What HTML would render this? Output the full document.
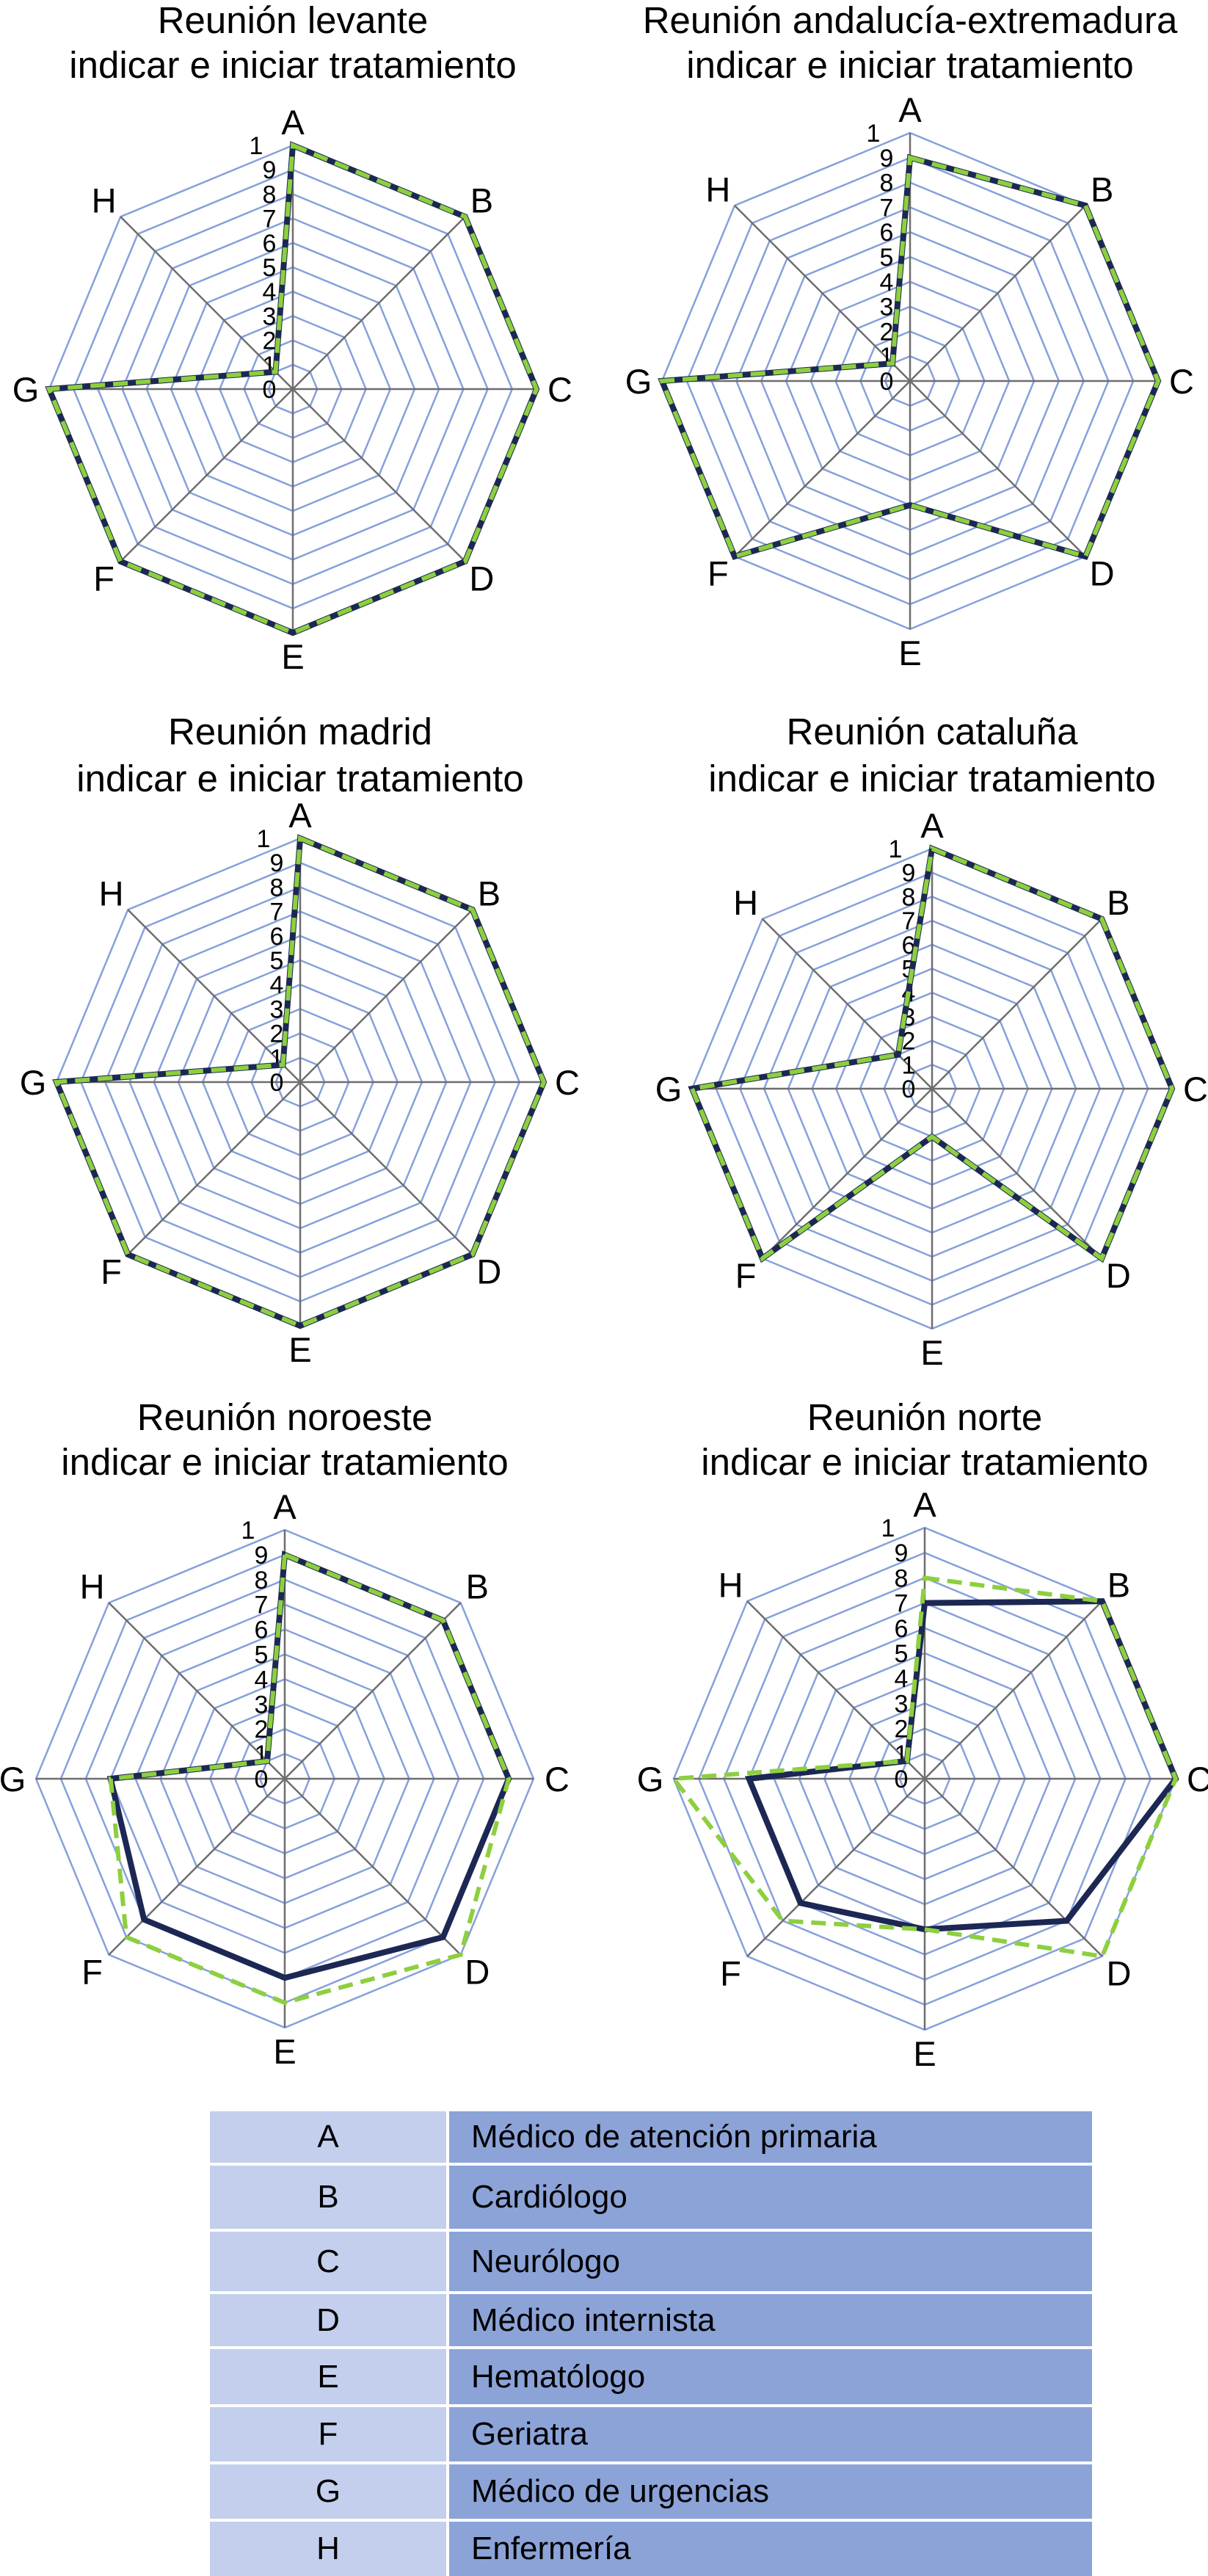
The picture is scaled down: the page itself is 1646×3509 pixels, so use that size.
<!DOCTYPE html>
<html><head><meta charset="utf-8">
<style>
html,body{margin:0;padding:0;background:#fff;}
body{width:1646px;height:3505px;position:relative;overflow:hidden;font-family:"Liberation Sans",sans-serif;}
svg{position:absolute;left:0;top:0;}
.tbl{position:absolute;left:286px;top:2876px;width:1202px;}
.row{display:flex;border-bottom:4px solid #fff;}
.c1{width:322px;background:#c3cfec;display:flex;align-items:center;justify-content:center;font-family:"Liberation Sans Narrow","Liberation Sans",sans-serif;font-size:44px;color:#000;border-right:4px solid #fff;}
.c2{flex:1;background:#8ca3d8;display:flex;align-items:center;padding-left:30px;font-family:"Liberation Sans Narrow","Liberation Sans",sans-serif;font-size:44px;color:#000;}
</style></head>
<body>
<svg id="chart" width="1646" height="2870" viewBox="0 0 1646 2870"></svg>
<div class="tbl">
  <div class="row" style="height:70px"><div class="c1">A</div><div class="c2">Médico de atención primaria</div></div>
  <div class="row" style="height:86px"><div class="c1">B</div><div class="c2">Cardiólogo</div></div>
  <div class="row" style="height:81px"><div class="c1">C</div><div class="c2">Neurólogo</div></div>
  <div class="row" style="height:71px"><div class="c1">D</div><div class="c2">Médico internista</div></div>
  <div class="row" style="height:75px"><div class="c1">E</div><div class="c2">Hematólogo</div></div>
  <div class="row" style="height:74px"><div class="c1">F</div><div class="c2">Geriatra</div></div>
  <div class="row" style="height:74px"><div class="c1">G</div><div class="c2">Médico de urgencias</div></div>
  <div class="row" style="height:74px;border-bottom:none"><div class="c1">H</div><div class="c2">Enfermería</div></div>
</div>
<script>
const categories = ["A","B","C","D","E","F","G","H"];
const tickLabels = ["0","1","2","3","4","5","6","7","8","9","1"];
const chartTitles = ["Reunión levante","Reunión andalucía-extremadura","Reunión madrid","Reunión cataluña","Reunión noroeste","Reunión norte"];
const subtitle = "indicar e iniciar tratamiento";
const levanteNavy = [10,10,10,10,10,10,10,1];
const levanteGreen = [10,10,10,10,10,10,10,1];
const andaluciaNavy = [9,10,10,10,5,10,10,1];
const andaluciaGreen = [9,10,10,10,5,10,10,1];
const madridNavy = [10,10,10,10,10,10,10,1];
const madridGreen = [10,10,10,10,10,10,10,1];
const catalunaNavy = [10,10,10,10,2,10,10,2];
const catalunaGreen = [10,10,10,10,2,10,10,2];
const noroesteNavy = [9,9,9,9,8,8,7,1];
const noroesteGreen = [9,9,9,10,9,9,7,1];
const norteNavy = [7,10,10,8,6,7,7,1];
const norteGreen = [8,10,10,10,6,8,10,1];
const maxValue = 10;

const layouts = [
  {cx:399,cy:530,r:332,t1:45,t2:106},
  {cx:1240,cy:519,r:338,t1:45,t2:106},
  {cx:409,cy:1474,r:332,t1:1014,t2:1078},
  {cx:1270,cy:1483,r:327,t1:1014,t2:1078},
  {cx:388,cy:2423,r:339,t1:1948,t2:2009},
  {cx:1260,cy:2423,r:342,t1:1948,t2:2009}
];
const seriesNavy = [levanteNavy,andaluciaNavy,madridNavy,catalunaNavy,noroesteNavy,norteNavy];
const seriesGreen = [levanteGreen,andaluciaGreen,madridGreen,catalunaGreen,noroesteGreen,norteGreen];

const NS = "http://www.w3.org/2000/svg";
const svg = document.getElementById("chart");
function mk(tag, attrs, parent){
  const e = document.createElementNS(NS, tag);
  for (const k in attrs) e.setAttribute(k, attrs[k]);
  parent.appendChild(e);
  return e;
}
function pt(L, i, v){
  const a = -Math.PI/2 + i*2*Math.PI/categories.length;
  const rr = L.r * v / maxValue;
  return [L.cx + rr*Math.cos(a), L.cy + rr*Math.sin(a)];
}
layouts.forEach((L, ci) => {
  const g = mk("g", {}, svg);
  
  
  const t1 = mk("text", {x:L.cx, y:L.t1, "text-anchor":"middle", "font-size":"51", fill:"#000"}, g);
  t1.textContent = chartTitles[ci];
  
  
  const t2 = mk("text", {x:L.cx, y:L.t2, "text-anchor":"middle", "font-size":"51", fill:"#000"}, g);
  t2.textContent = subtitle;
  
  
  for (let k = 1; k <= 10; k++){
    const v = k*maxValue/10;
    const p = categories.map((c,i) => pt(L,i,v).join(",")).join(" ");
    const ring = mk("polygon", {points:p, fill:"none", stroke:"#87a0dc", "stroke-width":"2.5"}, g);
    
    
  }
  categories.forEach((c,i) => {
    const e = pt(L,i,maxValue);
    const sp = mk("line", {x1:L.cx, y1:L.cy, x2:e[0], y2:e[1], stroke:"#6e6e6e", "stroke-width":"2.5"}, g);
    
    
    const lp = pt(L,i,maxValue*(L.r+32)/L.r);
    const lab = mk("text", {x:lp[0], y:lp[1]+17, "text-anchor":"middle", "font-size":"47", fill:"#000"}, g);
    lab.textContent = c;
    
    
  });
  tickLabels.forEach((tl, k) => {
    const y = L.cy - L.r*k/maxValue;
    const x = k === 10 ? L.cx - 50 : L.cx - 32;
    const t = mk("text", {x:x, y:y+12, "text-anchor":"middle", "font-size":"34", fill:"#000"}, g);
    t.textContent = tl;
    
    
  });
  const navy = seriesNavy[ci].map((v,i) => pt(L,i,v).join(",")).join(" ");
  const pn = mk("polygon", {points:navy, fill:"none", stroke:"#1c2753", "stroke-width":"8", "stroke-linejoin":"miter"}, g);
  
  
  const green = seriesGreen[ci].map((v,i) => pt(L,i,v).join(",")).join(" ");
  const pg = mk("polygon", {points:green, fill:"none", stroke:"#8dcf3f", "stroke-width":"6", "stroke-dasharray":"20 11"}, g);
  
  
});
</script>
</body></html>
